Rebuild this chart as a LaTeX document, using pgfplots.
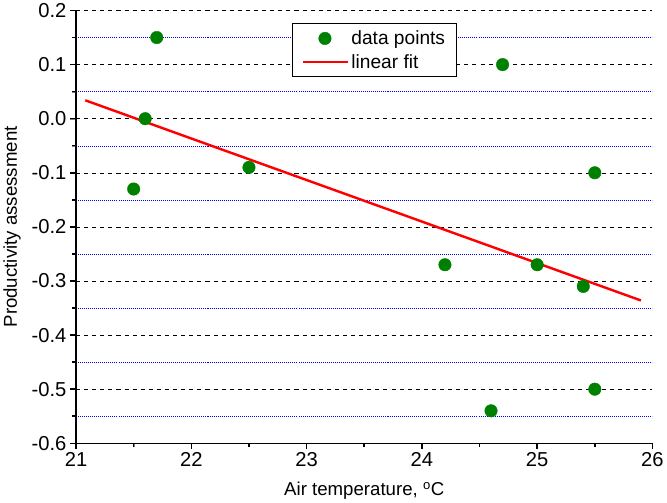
\documentclass[border=0pt]{standalone}
\usepackage{pgfplots}
\pgfplotsset{compat=1.18}
\usepackage{fontspec}
\setmainfont{Liberation Sans}

\definecolor{ptgreen}{RGB}{0,128,0}
\pgfplotsset{
  markleg/.style={legend image code/.code={\draw[##1] plot coordinates {(22bp,0bp)};}},
  lineleg/.style={legend image code/.code={\draw[##1] (0bp,0bp) -- (45bp,0bp);}},
}

\begin{document}
\begin{tikzpicture}
\begin{axis}[
  scale only axis,
  width=570bp, height=428bp,
  xmin=21, xmax=26,
  ymin=-0.6, ymax=0.2,
  clip=false,
  axis lines*=left,
  xtick={21,22,23,24,25,26},
  ytick={-0.6,-0.5,-0.4,-0.3,-0.2,-0.1,0,0.1,0.2},
  minor x tick num=1,
  minor y tick num=1,
  tick align=outside,
  major tick length=6bp,
  minor tick length=4bp,
  ymajorgrids, yminorgrids,
  major grid style={black, dash pattern=on 4bp off 4bp},
  minor grid style={blue, dash pattern=on 1bp off 1bp},
  /pgf/number format/assume math mode=true,
  yticklabel style={/pgf/number format/.cd, fixed, fixed zerofill, precision=1},
  tick label style={font=\fontsize{20}{22}\selectfont},
  label style={font=\fontsize{18.5}{21}\selectfont},
  xlabel style={yshift=-8bp},
  ylabel style={yshift=4bp},
  xlabel={Air temperature, \textsuperscript{o}C},
  ylabel={Productivity assessment},
  legend style={at={(0.375,0.97)}, anchor=north west, draw=black,
    font=\fontsize{19}{23}\selectfont,
    inner xsep=9bp, inner ysep=5bp, row sep=4bp},
  legend cell align=left,
]
\addplot[only marks, mark=*, mark size=6.2bp, color=ptgreen, markleg]
  coordinates {
  (21.5,-0.13) (21.6,0.0) (21.7,0.15) (22.5,-0.09)
  (24.2,-0.27) (24.6,-0.54) (24.7,0.10) (25.0,-0.27)
  (25.4,-0.31) (25.5,-0.10) (25.5,-0.50)
};
\addlegendentry{data points}
\addplot[red, line width=2.4bp, no marks, lineleg]
  coordinates {(21.08,0.034) (25.9,-0.336)};
\addlegendentry{linear fit}
% axis lines and ticks, drawn explicitly
\draw[black, line width=1.5bp] (rel axis cs:0,1) -- (rel axis cs:0,0) -- (rel axis cs:1,0);
\pgfplotsinvokeforeach{21,22,23,24,25,26}{
  \draw[black, line width=1.5bp] (axis cs:#1,-0.6) -- ++(0bp,-6bp);}
\pgfplotsinvokeforeach{21.5,22.5,23.5,24.5,25.5}{
  \draw[black, line width=1.5bp] (axis cs:#1,-0.6) -- ++(0bp,-4bp);}
\pgfplotsinvokeforeach{-0.6,-0.5,-0.4,-0.3,-0.2,-0.1,0,0.1,0.2}{
  \draw[black, line width=1.5bp] (axis cs:21,#1) -- ++(-6bp,0bp);}
\pgfplotsinvokeforeach{-0.55,-0.45,-0.35,-0.25,-0.15,-0.05,0.05,0.15}{
  \draw[black, line width=1.5bp] (axis cs:21,#1) -- ++(-4bp,0bp);}
\end{axis}
\end{tikzpicture}
\end{document}
